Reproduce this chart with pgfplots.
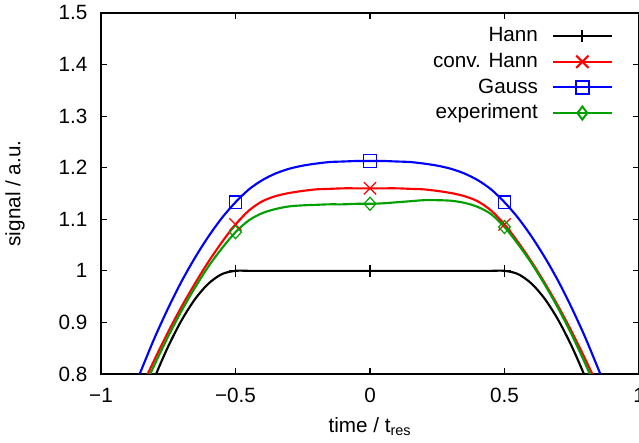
\documentclass[border=0pt]{standalone}
\usepackage{fontspec}
\setmainfont{Liberation Sans}
\usepackage{pgfplots}
\usepackage{pgfplotstable}
\pgfplotsset{compat=1.18}
\definecolor{gpred}{RGB}{255,0,0}
\definecolor{gpgreen}{RGB}{0,160,0}
\definecolor{gpblue}{RGB}{0,0,255}
\newcommand{\bigf}{\fontsize{15.5}{18}\selectfont}
\pgfplotstableread{
t hann conv gauss exp
-0.90 0.6545 0.713 0.743 0.702
-0.85 0.7270 0.773 0.808 0.762
-0.80 0.7939 0.829 0.871 0.819
-0.75 0.8536 0.882 0.928 0.873
-0.70 0.9045 0.931 0.980 0.923
-0.65 0.9455 0.976 1.026 0.968
-0.60 0.9755 1.018 1.067 1.009
-0.55 0.9938 1.056 1.103 1.044
-0.50 1 1.090 1.133 1.075
-0.45 1 1.117 1.158 1.098
-0.40 1 1.135 1.176 1.112
-0.35 1 1.145 1.189 1.120
-0.30 1 1.151 1.198 1.125
-0.25 1 1.155 1.204 1.127
-0.20 1 1.158 1.208 1.128
-0.15 1 1.159 1.211 1.129
-0.10 1 1.160 1.212 1.129
-0.05 1 1.160 1.213 1.130
0.00 1 1.160 1.213 1.130
0.05 1 1.160 1.213 1.131
0.10 1 1.160 1.212 1.133
0.15 1 1.159 1.211 1.135
0.20 1 1.158 1.208 1.137
0.25 1 1.155 1.204 1.137
0.30 1 1.151 1.198 1.136
0.35 1 1.145 1.189 1.132
0.40 1 1.135 1.176 1.124
0.45 1 1.117 1.158 1.110
0.50 1 1.090 1.133 1.085
0.55 0.9938 1.056 1.103 1.052
0.60 0.9755 1.018 1.067 1.015
0.65 0.9455 0.976 1.026 0.973
0.70 0.9045 0.931 0.980 0.927
0.75 0.8536 0.882 0.928 0.876
0.80 0.7939 0.829 0.871 0.820
0.85 0.7270 0.773 0.808 0.760
0.90 0.6545 0.713 0.743 0.697
}\data
\begin{document}
\begin{tikzpicture}[font=\bigf]
\begin{axis}[
  font=\bigf,
  scale only axis, width=403.5pt, height=270.75pt,
  xmin=-1, xmax=1, ymin=0.8, ymax=1.5,
  xtick={-1,-0.5,0,0.5,1}, xticklabels={−1,−0.5,0,0.5,1},
  ytick={0.8,0.9,1,1.1,1.2,1.3,1.4,1.5},
  yticklabels={0.8,0.9,1,1.1,1.2,1.3,1.4,1.5},
  tick align=inside, tick pos=both, major tick length=4.5pt,
  axis line style={line width=1.1pt},
  every tick/.style={black, line width=0.8pt},
  tick label style={font=\bigf},
  label style={font=\bigf},
  xticklabel style={inner sep=0pt, anchor=north, yshift=-10.5pt},
  yticklabel style={inner sep=0pt, anchor=east, xshift=-10pt},
  xlabel={time / t\textsubscript{res}}, ylabel={signal / a.u.},
  xlabel style={at={(axis description cs:0.5,-0.1634)}, anchor=base},
  ylabel style={at={(axis description cs:-0.16,0.5)}, anchor=center},
  legend style={font=\bigf, draw=none, fill=none, at={(axis description cs:0.9517,0.9654)},
    anchor=north east, row sep=3.75pt, column sep=10.5pt, inner sep=0pt,
    nodes={inner sep=0pt, text height=12pt, text depth=3.5pt}},
  legend cell align=right, legend plot pos=right,
  legend image code/.code={\draw[mark repeat=2,mark phase=2,mark options={line width=1.5pt}] plot coordinates {(0pt,0pt)(22pt,0pt)(44pt,0pt)};},
  every axis plot/.append style={line width=1.6pt, smooth, mark repeat=10},
]
\addplot[black, mark=+, mark size=4.7pt, mark phase=6, mark options={line width=0.9pt}] table[x=t,y=hann]{\data};
\addlegendentry{Hann}
\addplot[gpred, mark=x, mark size=6.5pt, mark phase=7, mark options={line width=0.9pt}] table[x=t,y=conv]{\data};
\addlegendentry{conv. Hann}
\addplot[gpblue, mark=square, mark size=4.7pt, mark phase=8, mark options={line width=0.9pt}] table[x=t,y=gauss]{\data};
\addlegendentry{Gauss}
\addplot[gpgreen, mark=diamond, mark size=4.9pt, mark phase=7, mark options={line width=0.9pt, xscale=1.2}] table[x=t,y=exp]{\data};
\addlegendentry{experiment}
\end{axis}
\pgfresetboundingbox
\path ([shift={(-75.75pt,-51.75pt)}]current axis.south west) rectangle ([shift={(0pt,9.75pt)}]current axis.north east);
\end{tikzpicture}
\end{document}
